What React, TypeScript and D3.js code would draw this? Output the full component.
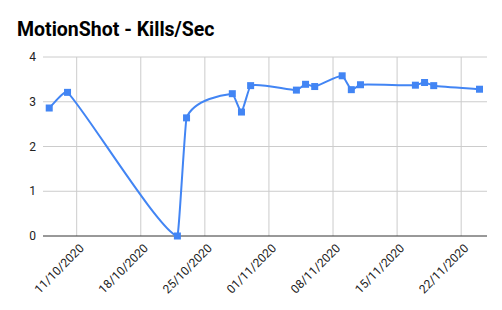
import React from "react";
import * as d3 from "d3";

const dates = ["2020-10-08","2020-10-10","2020-10-22","2020-10-23","2020-10-28","2020-10-29","2020-10-30","2020-11-04","2020-11-05","2020-11-06","2020-11-09","2020-11-10","2020-11-11","2020-11-17","2020-11-18","2020-11-19","2020-11-24"];
const values = [2.86,3.21,0,2.64,3.18,2.77,3.36,3.26,3.39,3.34,3.58,3.27,3.38,3.37,3.43,3.36,3.28];
const xTicks = ["2020-10-11","2020-10-18","2020-10-25","2020-11-01","2020-11-08","2020-11-15","2020-11-22"];
const yTicks = [0,1,2,3,4];
const title = "MotionShot - Kills/Sec";

const W = 502, H = 310;
const left = 43, right = 487, top = 57, bottom = 236;
const parse = d3.utcParse("%Y-%m-%d");
const fmt = d3.utcFormat("%d/%m/%Y");
const DAY = 86400000;
const K = 0.16;

function smoothPath(pts: [number, number][]) {
  const n = pts.length;
  const slope = (a: [number, number], b: [number, number]) => (b[1] - a[1]) / (b[0] - a[0]);
  const m = pts.map((p, i) => {
    const a = pts[Math.max(0, i - 1)];
    const b = pts[Math.min(n - 1, i + 1)];
    return slope(a, b);
  });
  const path = d3.path();
  path.moveTo(pts[0][0], pts[0][1]);
  for (let i = 0; i < n - 1; i++) {
    const p = pts[i], q = pts[i + 1];
    const h = (q[0] - p[0]) * K;
    path.bezierCurveTo(p[0] + h, p[1] + m[i] * h, q[0] - h, q[1] - m[i + 1] * h, q[0], q[1]);
  }
  return path.toString();
}

export default function App() {
  const t0 = parse("2020-10-11")!.getTime();
  const x = d3.scaleUtc()
    .domain([new Date(t0 - 3.68 * DAY), new Date(t0 + 44.82 * DAY)])
    .range([left, right]);
  const y = d3.scaleLinear().domain([0, 4]).range([bottom, top]);
  const pts = dates.map((d, i) => [x(parse(d)!), y(values[i])] as [number, number]);
  const line = smoothPath(pts);
  const font = "Roboto, Arial, sans-serif";
  return (
    <svg width={W} height={H} style={{ position: "absolute", left: 0, top: 0, background: "#fff" }} fontFamily={font}>
      <rect width={W} height={H} fill="#fff" />
      <text x={17} y={36} fontSize={19.5} fontWeight="bold" fill="#000">{title}</text>
      {xTicks.map((t) => {
        const xx = x(parse(t)!);
        return <line key={t} x1={xx} x2={xx} y1={top} y2={bottom} stroke="#ccc" strokeWidth={1} />;
      })}
      {yTicks.map((v) => (
        <g key={v}>
          <line x1={left} x2={right} y1={y(v)} y2={y(v)} stroke={v === 0 ? "#333" : "#ccc"} strokeWidth={1} />
          <text x={36} y={y(v)} dy="0.35em" textAnchor="end" fontSize={12} fill="#222">{v}</text>
        </g>
      ))}
      <defs>
        <clipPath id="clip"><rect x={left} y={top - 10} width={right - left} height={bottom - top + 10} /></clipPath>
      </defs>
      <path d={line} fill="none" stroke="#4285F4" strokeWidth={2} clipPath="url(#clip)" />
      {pts.map((p, i) => (
        <rect key={i} x={p[0] - 3.5} y={p[1] - 3.5} width={7} height={7} fill="#4285F4" />
      ))}
      {xTicks.map((t) => {
        const xx = x(parse(t)!);
        return (
          <text key={t} transform={`translate(${xx + 5},${bottom + 10}) rotate(-45)`} textAnchor="end" fontSize={12} fill="#222" dy="0.35em">{fmt(parse(t)!)}</text>
        );
      })}
    </svg>
  );
}
